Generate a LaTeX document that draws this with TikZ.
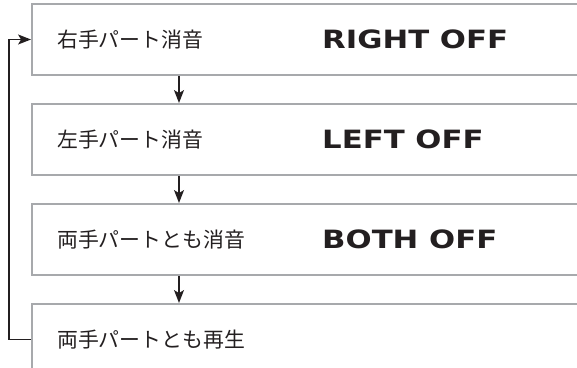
\documentclass[tikz,border=0pt]{standalone}
\usepackage{fontspec}
\newfontfamily\jpfont{Noto Sans CJK JP}
\newfontfamily\lcdfont{DejaVu Sans}[FakeStretch=1.22]
\usetikzlibrary{positioning,arrows.meta}
\definecolor{boxgray}{HTML}{A7A9AC}
\definecolor{ink}{HTML}{231F20}

\begin{document}
\begin{tikzpicture}[x=0.03cm,y=-0.03cm,
  box/.style={draw=boxgray,line width=1.7pt,minimum width=17.04cm,
    minimum height=2.13cm,inner sep=0pt},
  jtext/.style={anchor=west,inner sep=0pt,text=ink,
    font=\jpfont\fontsize{17.8pt}{17.8pt}\selectfont},
  lcd/.style={anchor=west,inner sep=0pt,text=ink,
    font=\lcdfont\bfseries\fontsize{21.5pt}{21.5pt}\selectfont},
  flow/.style={draw=ink,line width=1.3pt,
    -{Stealth[length=11pt,width=8.5pt,inset=2.5pt]}}]
  \useasboundingbox (0,0) rectangle (577,368);
  \clip (0,0) rectangle (577,368);

  % the four play modes
  \node[box] (rhoff) at (316,39.5) {};
  \node[box,below=0.81cm of rhoff] (lhoff) {};
  \node[box,below=0.81cm of lhoff] (bhoff) {};
  \node[box,below=0.81cm of bhoff] (bhon) {};

  \node[jtext,right=0.78cm of rhoff.west] (rhjp) {右手パート消音};
  \node[jtext,right=0.78cm of lhoff.west] (lhjp) {左手パート消音};
  \node[jtext,right=0.78cm of bhoff.west] (bhjp) {両手パートとも消音};
  \node[jtext,right=0.78cm of bhon.west] (onjp) {両手パートとも再生};

  \node[lcd,right=8.73cm of rhoff.west] (rhlcd) {RIGHT OFF};
  \node[lcd,right=8.73cm of lhoff.west] (lhlcd) {LEFT OFF};
  \node[lcd,right=8.73cm of bhoff.west] (bhlcd) {BOTH OFF};

  % arrows
  \coordinate (col) at (179,0);
  \draw[flow] (rhoff.south -| col) -- (lhoff.north -| col);
  \draw[flow] (lhoff.south -| col) -- (bhoff.north -| col);
  \draw[flow] (bhoff.south -| col) -- (bhon.north -| col);
  \draw[flow] (bhon.west) -- ++(-22,0) |- (rhoff.west);
\end{tikzpicture}
\end{document}
